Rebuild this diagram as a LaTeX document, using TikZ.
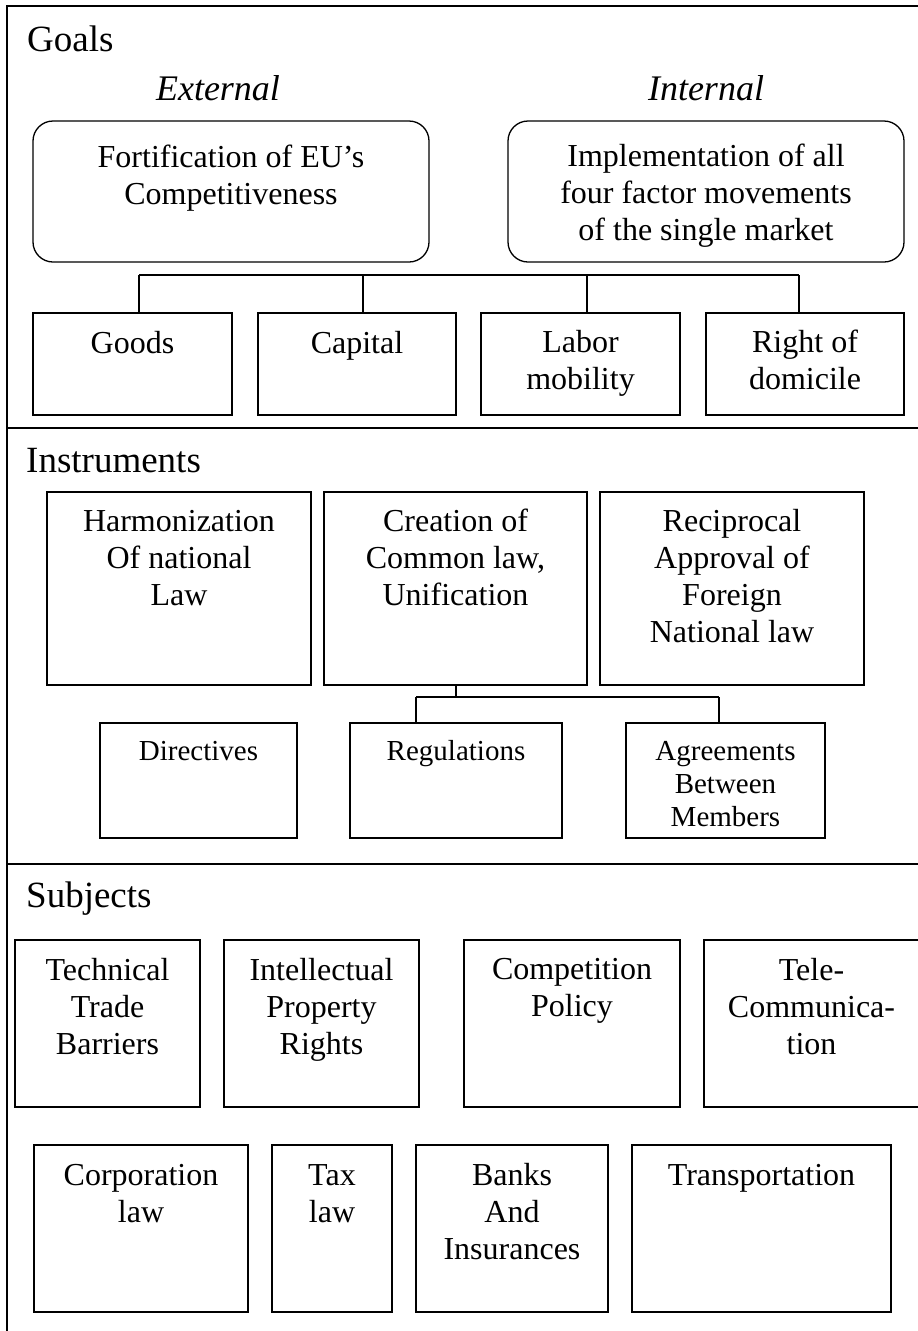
\documentclass[tikz,border=0pt]{standalone}
\usepackage{fontspec}
\setmainfont{Liberation Serif}
\usetikzlibrary{calc}
\tikzset{
  frameline/.style={line width=1.3pt},
  boxst/.style={draw, line width=1.3pt, inner sep=0pt},
  rbox/.style={boxst, rounded corners=20pt},
  conn/.style={line width=1.3pt},
  txt/.style={font=\fontsize{32}{37}\selectfont, align=center, inner sep=0pt},
  stxt/.style={font=\fontsize{29}{33}\selectfont, align=center, inner sep=0pt},
  head/.style={font=\fontsize{37}{42}\selectfont, inner sep=0pt, anchor=base west},
  side/.style={font=\fontsize{36}{40}\selectfont\itshape, inner sep=0pt, anchor=base},
}
% name, x1, y1, x2, y2, baseline y of LAST line, text style, text, box style
\newcommand\mkbox[9]{%
  \pgfmathsetmacro\bw{#4-#2}\pgfmathsetmacro\bh{#5-#3}%
  \node[#9, minimum width=\bw pt, minimum height=\bh pt] (#1) at ({(#2+#4)/2},{(#3+#5)/2}) {};
  \node[#7, anchor=base] (#1t) at ({(#2+#4)/2},#6) {#8};}
\begin{document}
\begin{tikzpicture}[x=1pt, y=-1pt]
\useasboundingbox (0,0) rectangle (918,1331);
% frame
\coordinate (ftl) at (7,6);
\coordinate (ftr) at (919,6);
\coordinate (fbl) at (7,1332);
\coordinate (d1l) at (7,428);
\coordinate (d1r) at (919,428);
\coordinate (d2l) at (7,864);
\coordinate (d2r) at (919,864);
\draw[frameline] (fbl) -- (ftl) -- (ftr);
\draw[frameline] (d1l) -- (d1r);
\draw[frameline] (d2l) -- (d2r);

% ---------- Goals ----------
\node[head] (goals) at (27,51) {Goals};
\node[side] (ext) at (218,100) {External};
\node[side] (int) at (706,100) {Internal};
\mkbox{fort}{33}{121}{429}{262}{204}{txt}{Fortification of EU’s\\Competitiveness}{rbox}
\mkbox{impl}{508}{121}{904}{262}{240}{txt}{Implementation of all\\four factor movements\\of the single market}{rbox}
\mkbox{goods}{33}{313}{232}{415}{353}{txt}{Goods}{boxst}
\mkbox{capital}{258}{313}{456}{415}{353}{txt}{Capital}{boxst}
\mkbox{labor}{481}{313}{680}{415}{389}{txt}{Labor\\mobility}{boxst}
\mkbox{domicile}{706}{313}{904}{415}{389}{txt}{Right of\\domicile}{boxst}
\coordinate (gb1) at (139,275);
\coordinate (gb2) at (363,275);
\coordinate (gb3) at (587,275);
\coordinate (gb4) at (799,275);
\draw[conn] (gb1) -- (gb4);
\draw[conn] (gb1) -- (gb1 |- goods.north);
\draw[conn] (gb2) -- (gb2 |- capital.north);
\draw[conn] (gb3) -- (gb3 |- labor.north);
\draw[conn] (gb4) -- (gb4 |- domicile.north);

% ---------- Instruments ----------
\node[head] (instr) at (26,472) {Instruments};
\mkbox{harm}{47}{492}{311}{685}{605}{txt}{Harmonization\\Of national\\Law}{boxst}
\mkbox{creat}{324}{492}{587}{685}{605}{txt}{Creation of\\Common law,\\Unification}{boxst}
\mkbox{recip}{600}{492}{864}{685}{642}{txt}{Reciprocal\\Approval of\\Foreign\\National law}{boxst}
\mkbox{direc}{100}{723}{297}{838}{760}{stxt}{Directives}{boxst}
\mkbox{regul}{350}{723}{562}{838}{760}{stxt}{Regulations}{boxst}
\mkbox{agree}{626}{723}{825}{838}{826}{stxt}{Agreements\\Between\\Members}{boxst}
\coordinate (ib0) at (456,697);
\coordinate (ib1) at (416,697);
\coordinate (ib2) at (719,697);
\draw[conn] (ib0 |- creat.south) -- (ib0);
\draw[conn] (ib1) -- (ib2);
\draw[conn] (ib1) -- (ib1 |- regul.north);
\draw[conn] (ib2) -- (ib2 |- agree.north);

% ---------- Subjects ----------
\node[head] (subj) at (26,907) {Subjects};
\mkbox{tech}{15}{940}{200}{1107}{1054}{txt}{Technical\\Trade\\Barriers}{boxst}
\mkbox{intel}{224}{940}{419}{1107}{1054}{txt}{Intellectual\\Property\\Rights}{boxst}
\mkbox{comp}{464}{940}{680}{1107}{1016}{txt}{Competition\\Policy}{boxst}
\mkbox{tele}{704}{940}{919}{1107}{1054}{txt}{Tele-\\Communica-\\tion}{boxst}
\mkbox{corp}{34}{1145}{248}{1312}{1222}{txt}{Corporation\\law}{boxst}
\mkbox{tax}{272}{1145}{392}{1312}{1222}{txt}{Tax\\law}{boxst}
\mkbox{banks}{416}{1145}{608}{1312}{1259}{txt}{Banks\\And\\Insurances}{boxst}
\mkbox{transp}{632}{1145}{891}{1312}{1185}{txt}{Transportation}{boxst}
\end{tikzpicture}
\end{document}
